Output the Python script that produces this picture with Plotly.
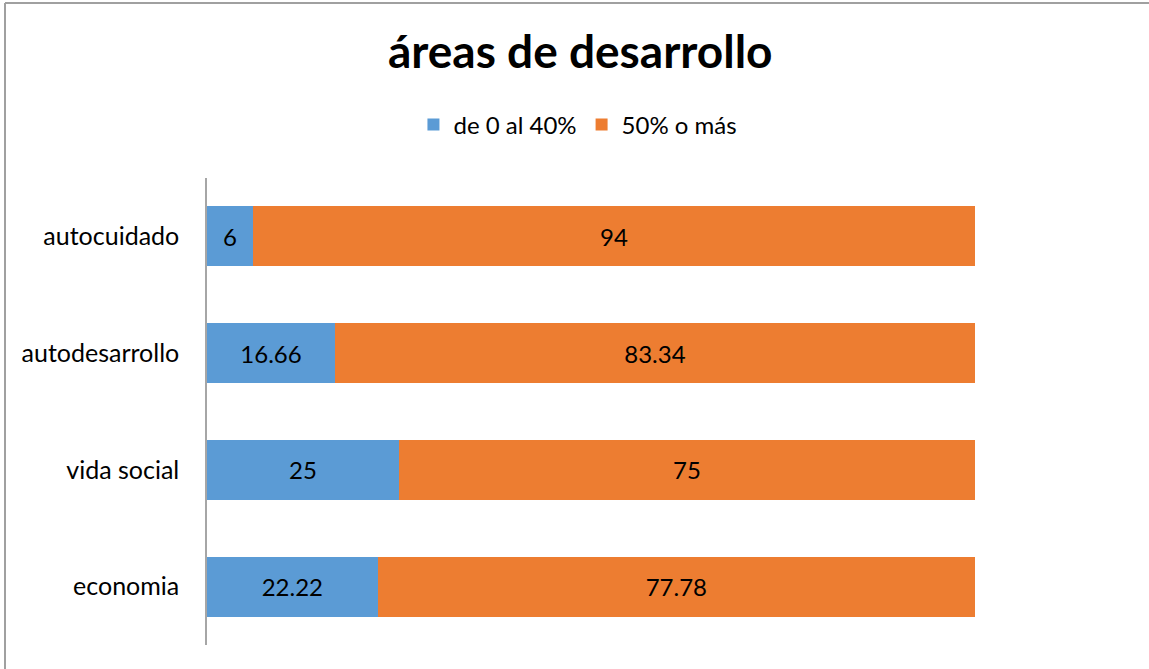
import plotly.graph_objects as go

categories = ["economia", "vida social", "autodesarrollo", "autocuidado"]
low_vals = [22.22, 25, 16.66, 6]
high_vals = [77.78, 75, 83.34, 94]
series_names = ["de 0 al 40%", "50% o más"]
colors = ["#5B9BD5", "#ED7D31"]
FONT = "Lato, 'Open Sans', sans-serif"

fig = go.Figure()
for name, vals, col in zip(series_names, [low_vals, high_vals], colors):
    fig.add_trace(go.Bar(
        y=categories, x=vals, name=name, orientation="h",
        marker=dict(color=col, line=dict(width=0)),
        text=[f"{v:g}" for v in vals], textposition="inside",
        insidetextanchor="middle", textangle=0,
        insidetextfont=dict(color="#000000", size=24, family=FONT),
        hoverinfo="x+y+name",
    ))

fig.update_layout(
    width=1149, height=669,
    barmode="stack", bargap=0.485,
    paper_bgcolor="white", plot_bgcolor="white",
    margin=dict(l=207, r=174, t=178, b=24),
    font=dict(family=FONT, color="#000000"),
    title=dict(text="<b>áreas de desarrollo</b>", x=0.505, xanchor="center",
               y=1 - 52 / 669, yanchor="middle", xref="container", yref="container",
               font=dict(size=46, family=FONT, color="#000000")),
    legend=dict(orientation="h", xref="container", yref="container",
                x=0.503, xanchor="center", y=1 - 125 / 669, yanchor="middle",
                font=dict(size=24, family=FONT, color="#000000"),
                traceorder="normal", itemwidth=30),
    showlegend=True,
    xaxis=dict(range=[0, 100], visible=False, fixedrange=True),
    yaxis=dict(showline=True, linecolor="#A6A6A6", linewidth=1.5,
               ticks="", tickfont=dict(size=25, family=FONT, color="#000000"),
               ticklabelstandoff=21, showgrid=False, zeroline=False),
    uniformtext=dict(minsize=8, mode="show"),
)

# outer chart border (left and top edges visible in the reference)
bx0 = (5 - 207) / 768
btop = 1 + (178 - 3) / 467
fig.add_shape(type="line", xref="paper", yref="paper",
              x0=bx0, x1=bx0, y0=-0.2, y1=btop,
              line=dict(color="#A0A0A0", width=2), layer="below")
fig.add_shape(type="line", xref="paper", yref="paper",
              x0=bx0, x1=1.5, y0=btop, y1=btop,
              line=dict(color="#A0A0A0", width=2), layer="below")

fig.write_html("out.html", config={"displayModeBar": False},
               post_script=("document.body.style.margin='0';"
                            "document.body.style.padding='0';"
                            "document.body.style.overflow='hidden';"
                            "document.documentElement.style.overflow='hidden';"))
